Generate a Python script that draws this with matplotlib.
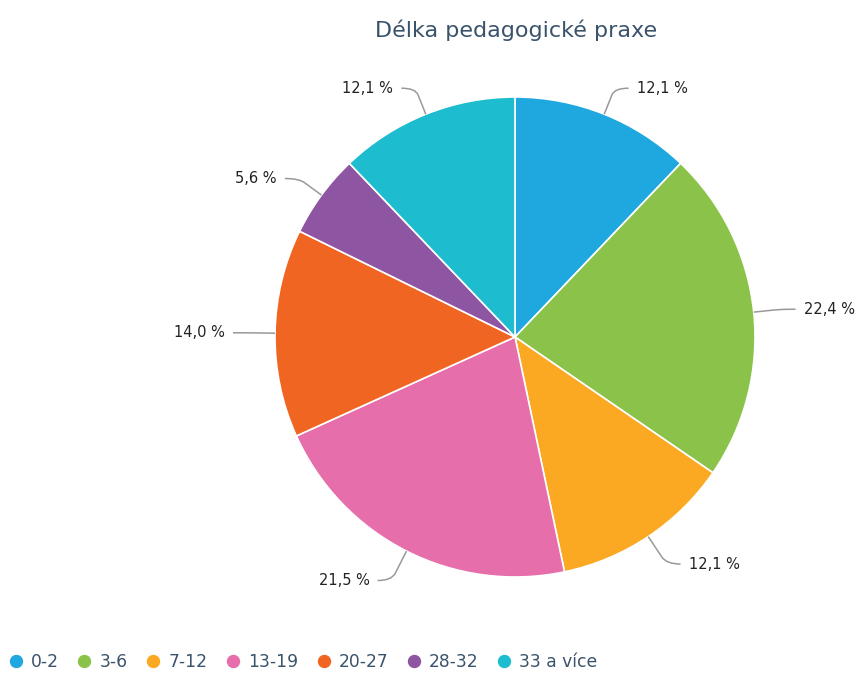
import numpy as np
import matplotlib.pyplot as plt
from matplotlib.path import Path
from matplotlib.patches import PathPatch
from matplotlib.lines import Line2D

# --- data ---
categories = ["0-2", "3-6", "7-12", "13-19", "20-27", "28-32", "33 a více"]
shares = [12.1, 22.4, 12.1, 21.5, 14.0, 5.6, 12.1]
labels = ["12,1 %", "22,4 %", "12,1 %", "21,5 %", "14,0 %", "5,6 %", "12,1 %"]
colors = ["#1fa7df", "#8bc34a", "#fba923", "#e66eab", "#f06522", "#8e55a3", "#1dbdcf"]

W, H = 858, 673
fig = plt.figure(figsize=(W / 100, H / 100), dpi=100)
ax = fig.add_axes([0, 0, 1, 1])

cx, cy, R = 515, H - 337, 240
wedges, _ = ax.pie(shares, colors=colors, startangle=90, counterclock=False,
                   center=(cx, cy), radius=R, frame=True,
                   wedgeprops=dict(edgecolor="white", linewidth=1.2))
ax.set_xlim(0, W)
ax.set_ylim(0, H)
ax.set_aspect("equal")
ax.axis("off")

# --- data labels with curved connectors ---
for w, lab in zip(wedges, labels):
    ang = np.deg2rad((w.theta1 + w.theta2) / 2)
    ax_, ay_ = cx + R * np.cos(ang), cy + R * np.sin(ang)
    d = 28 if np.sin(ang) > -0.5 else 33
    bx, by = cx + (R + d) * np.cos(ang), cy + (R + d) * np.sin(ang)
    side = 1 if np.cos(ang) >= 0 else -1
    # point a bit before the bend
    px, py = ax_ + 0.75 * (bx - ax_), ay_ + 0.75 * (by - ay_)
    ex = bx + side * 14
    path = Path([(ax_, ay_), (px, py), (bx, by), (ex, by)],
                [Path.MOVETO, Path.LINETO, Path.CURVE3, Path.CURVE3])
    ax.add_patch(PathPatch(path, fill=False, edgecolor="#999999", lw=1.1))
    ax.text(ex + side * 8, by, lab, ha="left" if side > 0 else "right",
            va="center", fontsize=10.5, color="#222222")

# --- title ---
fig.text(516 / W, 1 - 30 / H, "Délka pedagogické praxe", ha="center", va="center",
         fontsize=16, color="#3a536b")

# --- legend ---
handles = [Line2D([], [], linestyle="none", marker="o", markersize=8.6,
                  markerfacecolor=c, markeredgecolor=c) for c in colors]
fig.legend(handles, categories, loc="center left", bbox_to_anchor=(9 / W, 11 / H),
           ncol=len(categories), frameon=False, fontsize=12.3, labelcolor="#3a536b",
           handlelength=0.8, handletextpad=0.48, columnspacing=1.1, borderpad=0,
           borderaxespad=0)

fig.savefig("out.png", dpi=100)
